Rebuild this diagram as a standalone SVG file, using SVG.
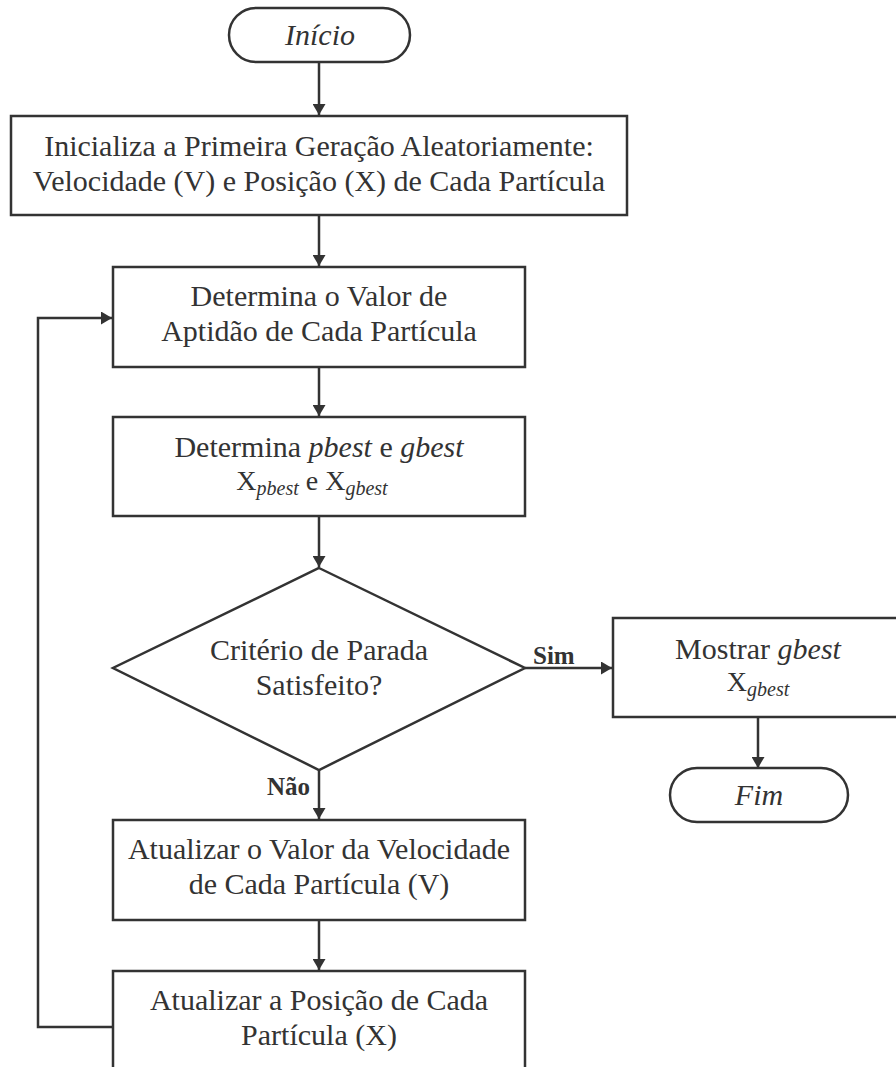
<svg xmlns="http://www.w3.org/2000/svg" width="896" height="1067" viewBox="0 0 896 1067">
<style>
.s{fill:#fff;stroke:#333;stroke-width:2.5}
.t{font-family:"Liberation Serif","Times New Roman",serif;font-size:30px;fill:#333;text-anchor:middle}
.i{font-style:italic}
.sub{font-size:20px;font-style:italic}
.b{font-family:"Liberation Serif","Times New Roman",serif;font-size:25px;font-weight:bold;fill:#333}
.c{fill:none;stroke:#333;stroke-width:2.5}
</style>
<defs>
<marker id="a" viewBox="0 0 11 13" refX="11" refY="6.5" markerWidth="11" markerHeight="13" orient="auto" markerUnits="userSpaceOnUse">
<path d="M0,0 L11,6.5 L0,13 z" fill="#333"/>
</marker>
</defs>
<rect width="896" height="1067" fill="#fff"/>
<g id="connectors">
<path class="c" d="M319,62 V115" marker-end="url(#a)"/>
<path class="c" d="M319,216 V266" marker-end="url(#a)"/>
<path class="c" d="M319,368 V416" marker-end="url(#a)"/>
<path class="c" d="M319,517 V567" marker-end="url(#a)"/>
<path class="c" d="M525,668 H612" marker-end="url(#a)"/>
<path class="c" d="M758,717 V768" marker-end="url(#a)"/>
<path class="c" d="M319,770 V819" marker-end="url(#a)"/>
<path class="c" d="M319,921 V970" marker-end="url(#a)"/>
<path class="c" d="M113,1027 H38 V318 H112" marker-end="url(#a)"/>
<text class="b" x="533" y="664">Sim</text>
<text class="b" x="267" y="795">Não</text>
</g>
<g id="inicio">
<rect class="s" x="229" y="8" width="181" height="54" rx="27"/>
<text class="t i" x="320" y="45">Início</text>
</g>
<g id="init">
<rect class="s" x="11" y="116" width="616" height="99"/>
<text class="t" x="319" y="156">Inicializa a Primeira Geração Aleatoriamente:</text>
<text class="t" x="319" y="191">Velocidade (V) e Posição (X) de Cada Partícula</text>
</g>
<g id="aptidao">
<rect class="s" x="113" y="267" width="412" height="100"/>
<text class="t" x="319" y="306">Determina o Valor de</text>
<text class="t" x="319" y="341">Aptidão de Cada Partícula</text>
</g>
<g id="best">
<rect class="s" x="113" y="417" width="412" height="99"/>
<text class="t" x="319" y="457">Determina <tspan class="i">pbest</tspan> e <tspan class="i">gbest</tspan></text>
<text class="t" x="312" y="490" style="font-size:28px">X<tspan class="sub" dy="5">pbest</tspan><tspan dy="-5"> e X</tspan><tspan class="sub" dy="5">gbest</tspan></text>
</g>
<g id="criterio">
<polygon class="s" points="319,568 525,668 319,770 113,668"/>
<text class="t" x="319" y="660">Critério de Parada</text>
<text class="t" x="319" y="695">Satisfeito?</text>
</g>
<g id="mostrar">
<rect class="s" x="613" y="618" width="292" height="99"/>
<text class="t" x="758" y="659">Mostrar <tspan class="i">gbest</tspan></text>
<text class="t" x="758" y="691" style="font-size:28px">X<tspan class="sub" dy="5">gbest</tspan></text>
</g>
<g id="fim">
<rect class="s" x="670" y="768" width="178" height="54" rx="27"/>
<text class="t i" x="759" y="805">Fim</text>
</g>
<g id="velocidade">
<rect class="s" x="113" y="820" width="412" height="100"/>
<text class="t" x="319" y="859">Atualizar o Valor da Velocidade</text>
<text class="t" x="319" y="894">de Cada Partícula (V)</text>
</g>
<g id="posicao">
<rect class="s" x="113" y="971" width="412" height="110"/>
<text class="t" x="319" y="1010">Atualizar a Posição de Cada</text>
<text class="t" x="319" y="1045">Partícula (X)</text>
</g>
</svg>
